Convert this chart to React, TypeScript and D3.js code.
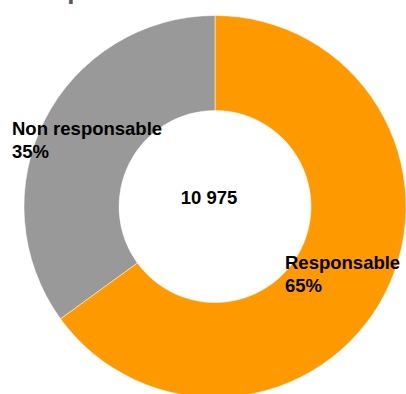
import React from "react";
import * as d3 from "d3";

const categories = ["Responsable", "Non responsable"];
const shares = [65, 35];
const percentLabels = ["65%", "35%"];
const totalLabel = "10 975";
const titleText = "Répartition des résidents";

const colors = ["#FF9900", "#999999"];

export default function App() {
  const width = 406;
  const height = 394;
  const cx = 215;
  const cy = 206.5;
  const outerR = 191;
  const innerR = 96;

  const pie = d3
    .pie<number>()
    .sort(null)
    .value((d) => d);
  const arcs = pie(shares);
  const arcGen = d3
    .arc<d3.PieArcDatum<number>>()
    .innerRadius(innerR)
    .outerRadius(outerR);

  const labelPos = [
    { x: 285, y: 269 },
    { x: 12, y: 135 },
  ];

  const font = "'Liberation Sans', Arial, sans-serif";

  return (
    <svg
      width={width}
      height={height}
      style={{ position: "absolute", left: 0, top: 0 }}
    >
      <rect width={width} height={height} fill="#ffffff" />
      <text
        x={190}
        y={-1}
        textAnchor="middle"
        fontFamily={font}
        fontWeight="bold"
        fontSize={26}
        fill="#595959"
      >
        {titleText}
      </text>
      <g transform={`translate(${cx},${cy})`}>
        {arcs.map((a, i) => (
          <path key={i} d={arcGen(a) || ""} fill={colors[i]} stroke="#ffffff" strokeWidth={0.5} />
        ))}
      </g>
      <text
        x={209}
        y={204}
        textAnchor="middle"
        fontFamily={font}
        fontWeight="bold"
        fontSize={18.5}
        fill="#000"
      >
        {totalLabel}
      </text>
      {categories.map((c, i) => (
        <text
          key={c}
          x={labelPos[i].x}
          y={labelPos[i].y}
          fontFamily={font}
          fontWeight="bold"
          fontSize={18.5}
          fill="#000"
        >
          <tspan x={labelPos[i].x}>{c}</tspan>
          <tspan x={labelPos[i].x} dy={22.5}>
            {percentLabels[i]}
          </tspan>
        </text>
      ))}
    </svg>
  );
}
